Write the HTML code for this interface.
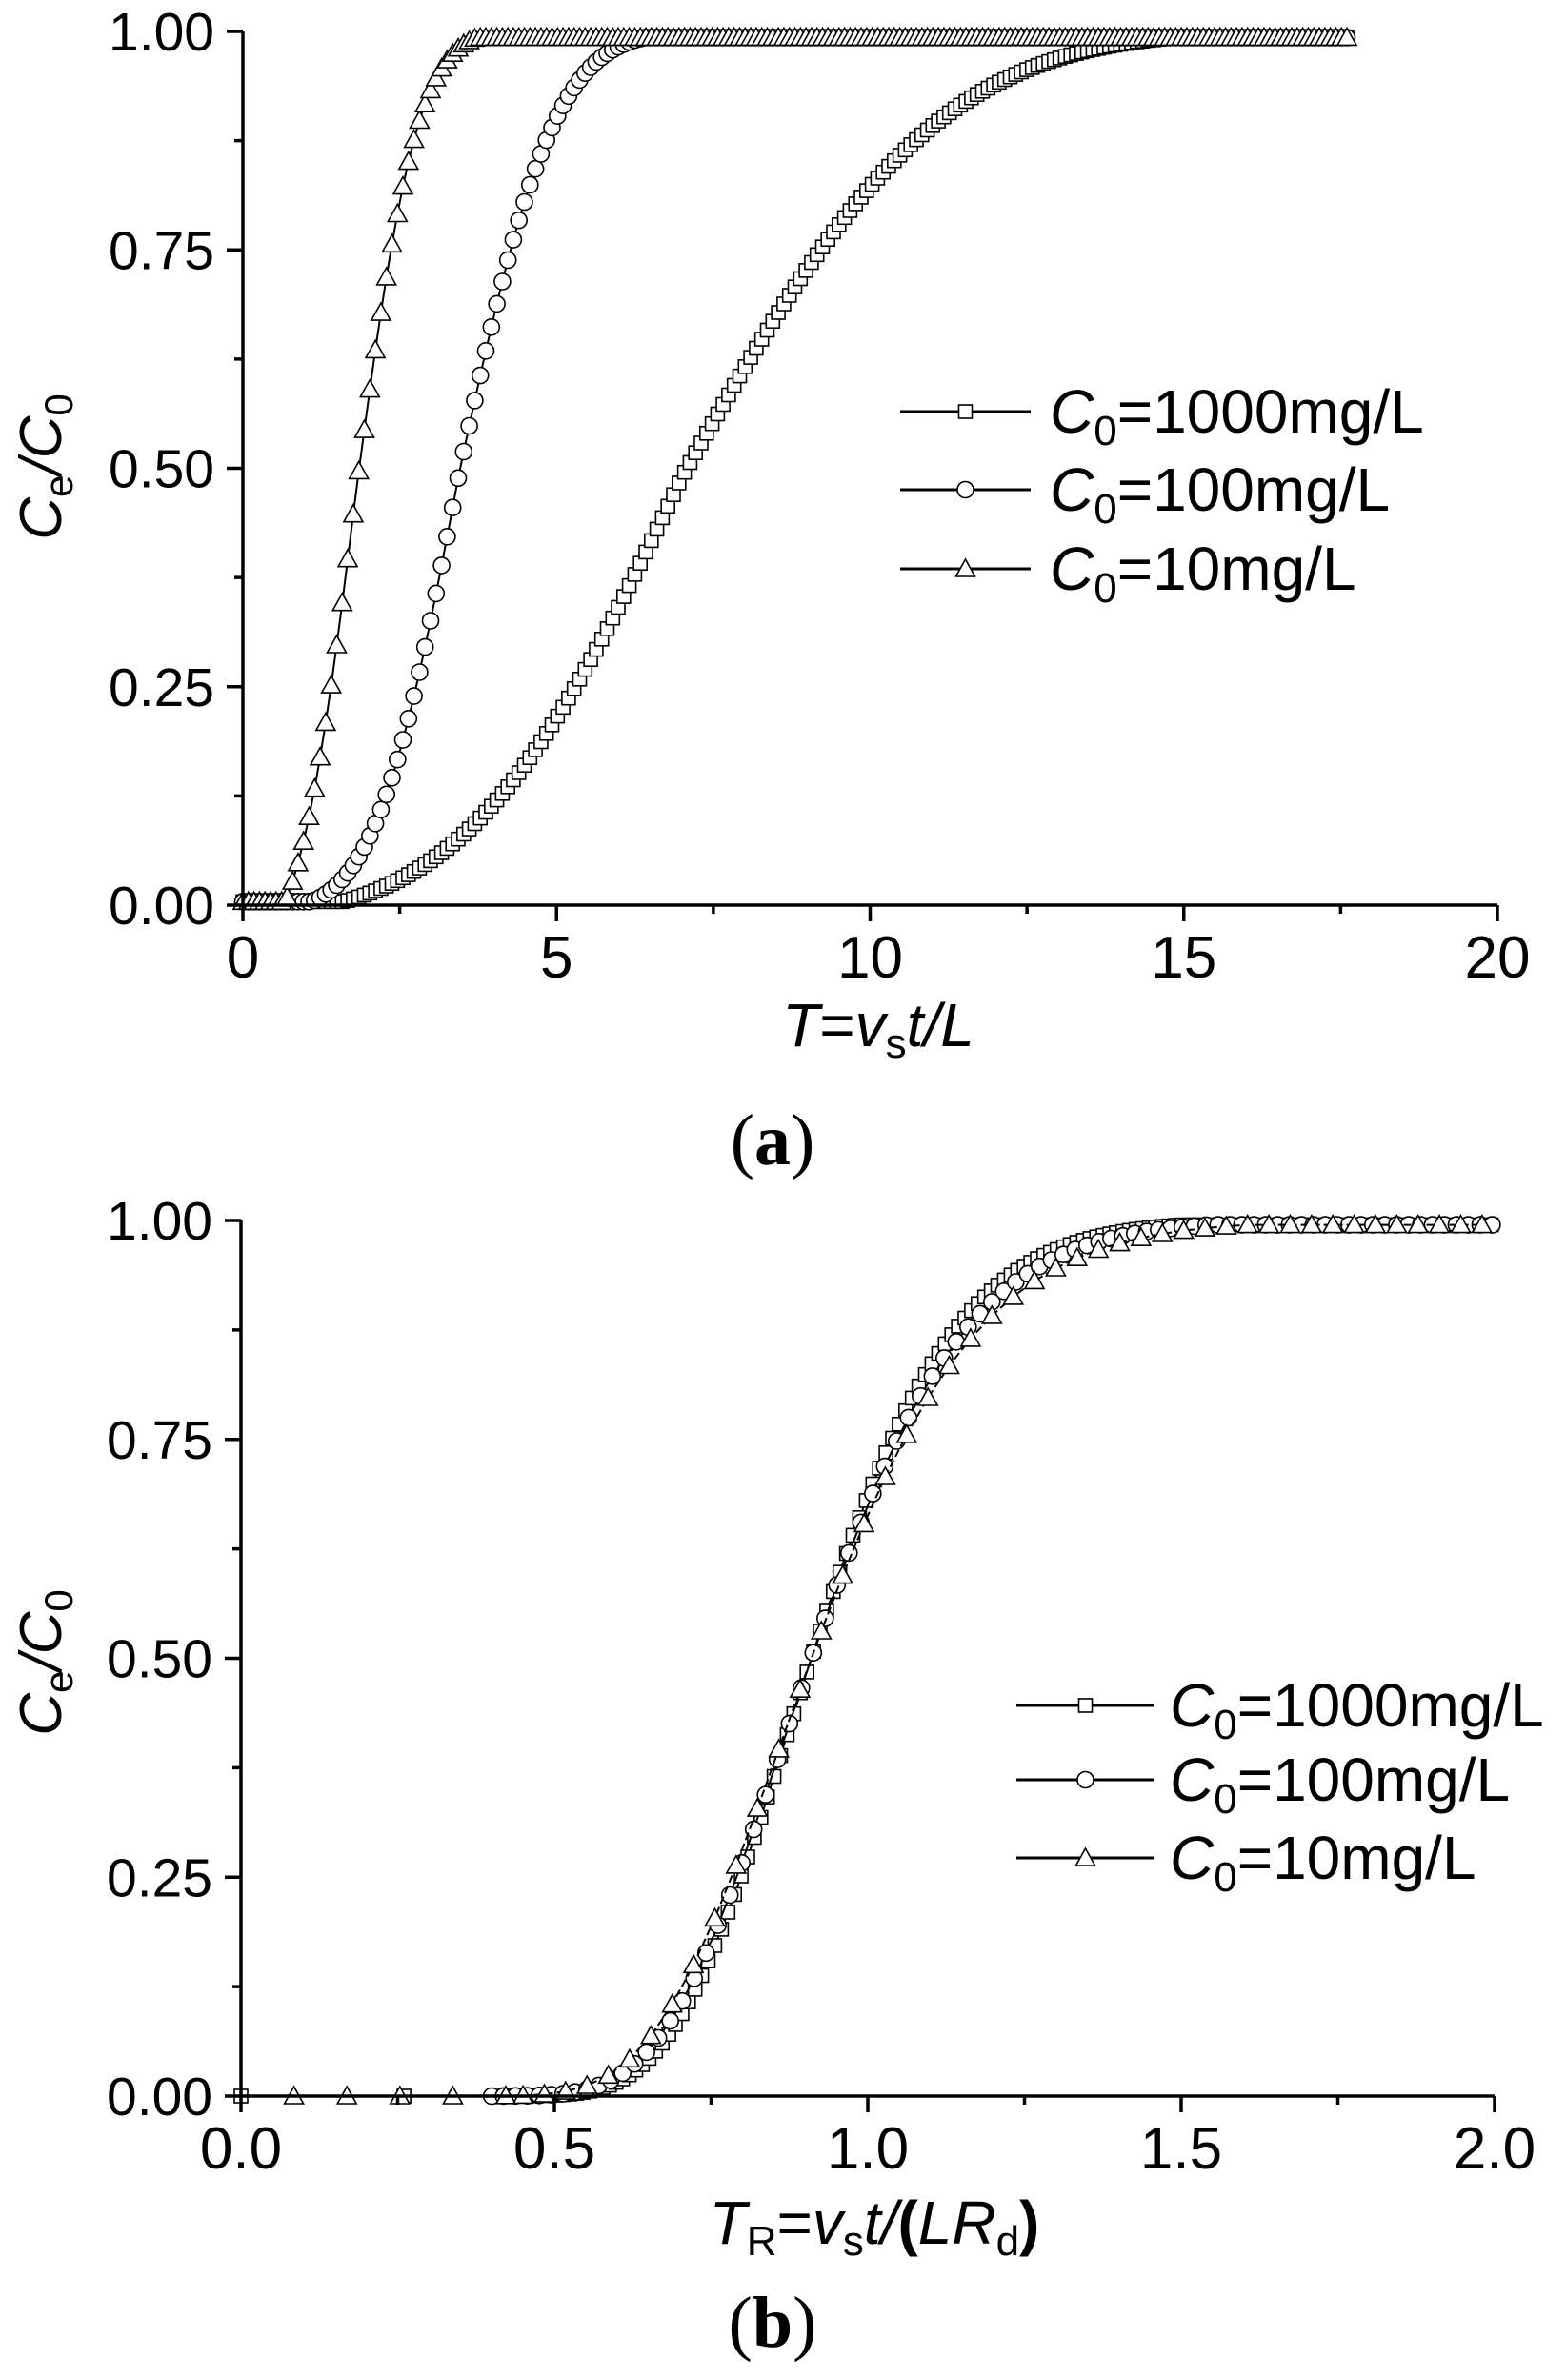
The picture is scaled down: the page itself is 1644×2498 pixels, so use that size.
<!DOCTYPE html>
<html><head><meta charset="utf-8"><style>
html,body{margin:0;padding:0;background:#fff;}
svg{display:block;}
text{font-family:"Liberation Sans",sans-serif;fill:#000;}
</style></head><body>
<svg id="s" width="1644" height="2498" viewBox="0 0 1644 2498" xmlns="http://www.w3.org/2000/svg">
<rect width="1644" height="2498" fill="#fff"/>
<g id="g"></g>
<text x="0" y="0" transform="translate(64,490) rotate(-90)" font-size="62" text-anchor="middle"><tspan font-style="italic">C</tspan><tspan font-size="42" dy="12">e</tspan><tspan dy="-12" font-style="italic">/C</tspan><tspan font-size="42" dy="12">0</tspan></text>
<text x="922" y="1098" font-size="64" text-anchor="middle"><tspan font-style="italic">T</tspan>=<tspan font-style="italic">v</tspan><tspan font-size="44" dy="12">s</tspan><tspan dy="-12" font-style="italic">t/L</tspan></text>
<text x="811" y="1222" font-size="76" text-anchor="middle" style="font-family:'Liberation Serif',serif">(<tspan font-weight="bold">a</tspan>)</text>
<text x="0" y="0" transform="translate(64,1745) rotate(-90)" font-size="62" text-anchor="middle"><tspan font-style="italic">C</tspan><tspan font-size="42" dy="12">e</tspan><tspan dy="-12" font-style="italic">/C</tspan><tspan font-size="42" dy="12">0</tspan></text>
<text x="918" y="2355" font-size="64" text-anchor="middle"><tspan font-style="italic">T</tspan><tspan font-size="44" dy="12">R</tspan><tspan dy="-12">=</tspan><tspan font-style="italic">v</tspan><tspan font-size="44" dy="12">s</tspan><tspan dy="-12" font-style="italic">t/</tspan><tspan font-weight="bold">(</tspan><tspan font-style="italic">LR</tspan><tspan font-size="44" dy="12">d</tspan><tspan dy="-12" font-weight="bold">)</tspan></text>
<text x="811" y="2463" font-size="76" text-anchor="middle" style="font-family:'Liberation Serif',serif">(<tspan font-weight="bold">b</tspan>)</text>
</svg>
<script>
(function(){
var g=document.getElementById('g'),out="";
function erf(x){var s=x<0?-1:1;x=Math.abs(x);var t=1/(1+0.3275911*x);var y=1-(((((1.061405429*t-1.453152027)*t)+1.421413741)*t-0.284496736)*t+0.254829592)*t*Math.exp(-x*x);return s*y;}
function ncdf(x,m,s){return 0.5*(1+erf((x-m)/(s*Math.SQRT2)));}
function mk(type,x,y){
 if(type==0) return '<rect x="'+(x-7).toFixed(1)+'" y="'+(y-7).toFixed(1)+'" width="14" height="14" fill="#fff" stroke="#000" stroke-width="1.6"/>';
 if(type==1) return '<circle cx="'+x.toFixed(1)+'" cy="'+y.toFixed(1)+'" r="8.5" fill="#fff" stroke="#000" stroke-width="1.6"/>';
 return '<polygon points="'+(x-10).toFixed(1)+','+(y+8).toFixed(1)+' '+(x+10).toFixed(1)+','+(y+8).toFixed(1)+' '+x.toFixed(1)+','+(y-10).toFixed(1)+'" fill="#fff" stroke="#000" stroke-width="1.6"/>';
}
function axes(x0,x1,y0,y1,xlab){
 var s='<g stroke="#000" stroke-width="3.5" fill="none"><path d="M'+x0+','+y1+' V'+y0+' H'+x1+'"/>';
 for(var i=0;i<=8;i++){var y=y0-(y0-y1)*i/8;s+='<path d="M'+x0+','+y+' h'+(i%2?-9:-17)+'"/>';}
 for(var i=0;i<=8;i++){var x=x0+(x1-x0)*i/8;s+='<path d="M'+x+','+y0+' v'+(i%2?9:17)+'"/>';}
 s+='</g>';
 var yv=["0.00","0.25","0.50","0.75","1.00"];
 for(var i=0;i<5;i++){var y=y0-(y0-y1)*i/4;s+='<text x="'+(x0-30)+'" y="'+(y+20)+'" font-size="57" text-anchor="end">'+yv[i]+'</text>';}
 for(var i=0;i<5;i++){var x=x0+(x1-x0)*i/4;s+='<text x="'+x+'" y="'+(y0+76)+'" font-size="62" text-anchor="middle">'+xlab[i]+'</text>';}
 return s;
}
function legend(lx,ly,tx){
 var s='',labs=["1000","100","10"];
 for(var i=0;i<3;i++){var y=ly[i];
  s+='<path d="M'+lx[0]+','+y+' H'+lx[1]+'" stroke="#000" stroke-width="3"/>'+mk(i,(lx[0]+lx[1])/2,y);
  s+='<text x="'+tx+'" y="'+(y+22)+'" font-size="64"><tspan font-style="italic">C</tspan><tspan font-size="44" dy="13">0</tspan><tspan dy="-13">='+labs[i]+'mg/L</tspan></text>';}
 return s;
}
var X0=255,X1=1572,Y0=950,Y1=33;
function tx(T){return X0+(X1-X0)*T/20;} function ty(c){return Y0-(Y0-Y1)*c;}
var par=[[7.0,2.7,1.4,3.2],[3.45,1.05,0.95,1.2],[1.8,0.72,0.65,0.78]];
for(var k=0;k<3;k++){
 var m=par[k][0],sd=par[k][1],t0=par[k][2],su=par[k][3],base=ncdf(t0,m,sd),pts=[],mks='';
 for(var T=0;T<=17.6;T+=0.088){var c;
  if(T<t0)c=0.004;else if(T<=m)c=(ncdf(T,m,sd)-base)/(1-base);else c=(ncdf(T,m,su)-base)/(1-base);
  c=Math.max(0.004,Math.min(c,0.993));pts.push(tx(T).toFixed(1)+','+ty(c).toFixed(1));mks+=mk(k,tx(T),ty(c));}
 out+='<polyline points="'+pts.join(' ')+'" fill="none" stroke="#000" stroke-width="2"/>'+mks;
}
out+=axes(X0,X1,Y0,Y1,["0","5","10","15","20"]);
out+=legend([945,1082],[432,514,597],1102);
var B0=253,B1=1569,BY0=2200,BY1=1281;
function bx(T){return B0+(B1-B0)*T/2;} function by(c){return BY0-(BY0-BY1)*c;}
function br(TR,Pe){var u=TR/0.91;if(u<=0)return 0;return 0.5*(1-erf((1-u)/(2*Math.sqrt(u/Pe))));}
var pes=[52,46,40],steps=[0.0105,0.019,0.034];
for(var k=0;k<3;k++){
 var pts=[],mks='',list=[];
 if(k==2){for(var T=0.0845;T<0.45;T+=0.0845)list.push(T);for(var T=0.45;T<=2.0;T+=steps[k])list.push(T);}
 else if(k==1){for(var T=0.4;T<=2.0;T+=steps[k])list.push(T);}
 else {list.push(0);list.push(0.26);for(var T=0.42;T<=2.0;T+=steps[k])list.push(T);}
 for(var i=0;i<list.length;i++){var T=list[i];var c=Math.min(br(T,pes[k]),0.995);pts.push(bx(T).toFixed(1)+','+by(c).toFixed(1));mks+=mk(k,bx(T),by(c));}
 out+='<polyline points="'+pts.join(' ')+'" fill="none" stroke="#000" stroke-width="2"'+(k==2?' stroke-dasharray="8,4"':'')+'/>'+mks;
}
out+=axes(B0,B1,BY0,BY1,["0.0","0.5","1.0","1.5","2.0"]);
out+=legend([1067,1212],[1790,1868,1950],1228);
g.innerHTML=out;
})();
</script>
</body></html>
